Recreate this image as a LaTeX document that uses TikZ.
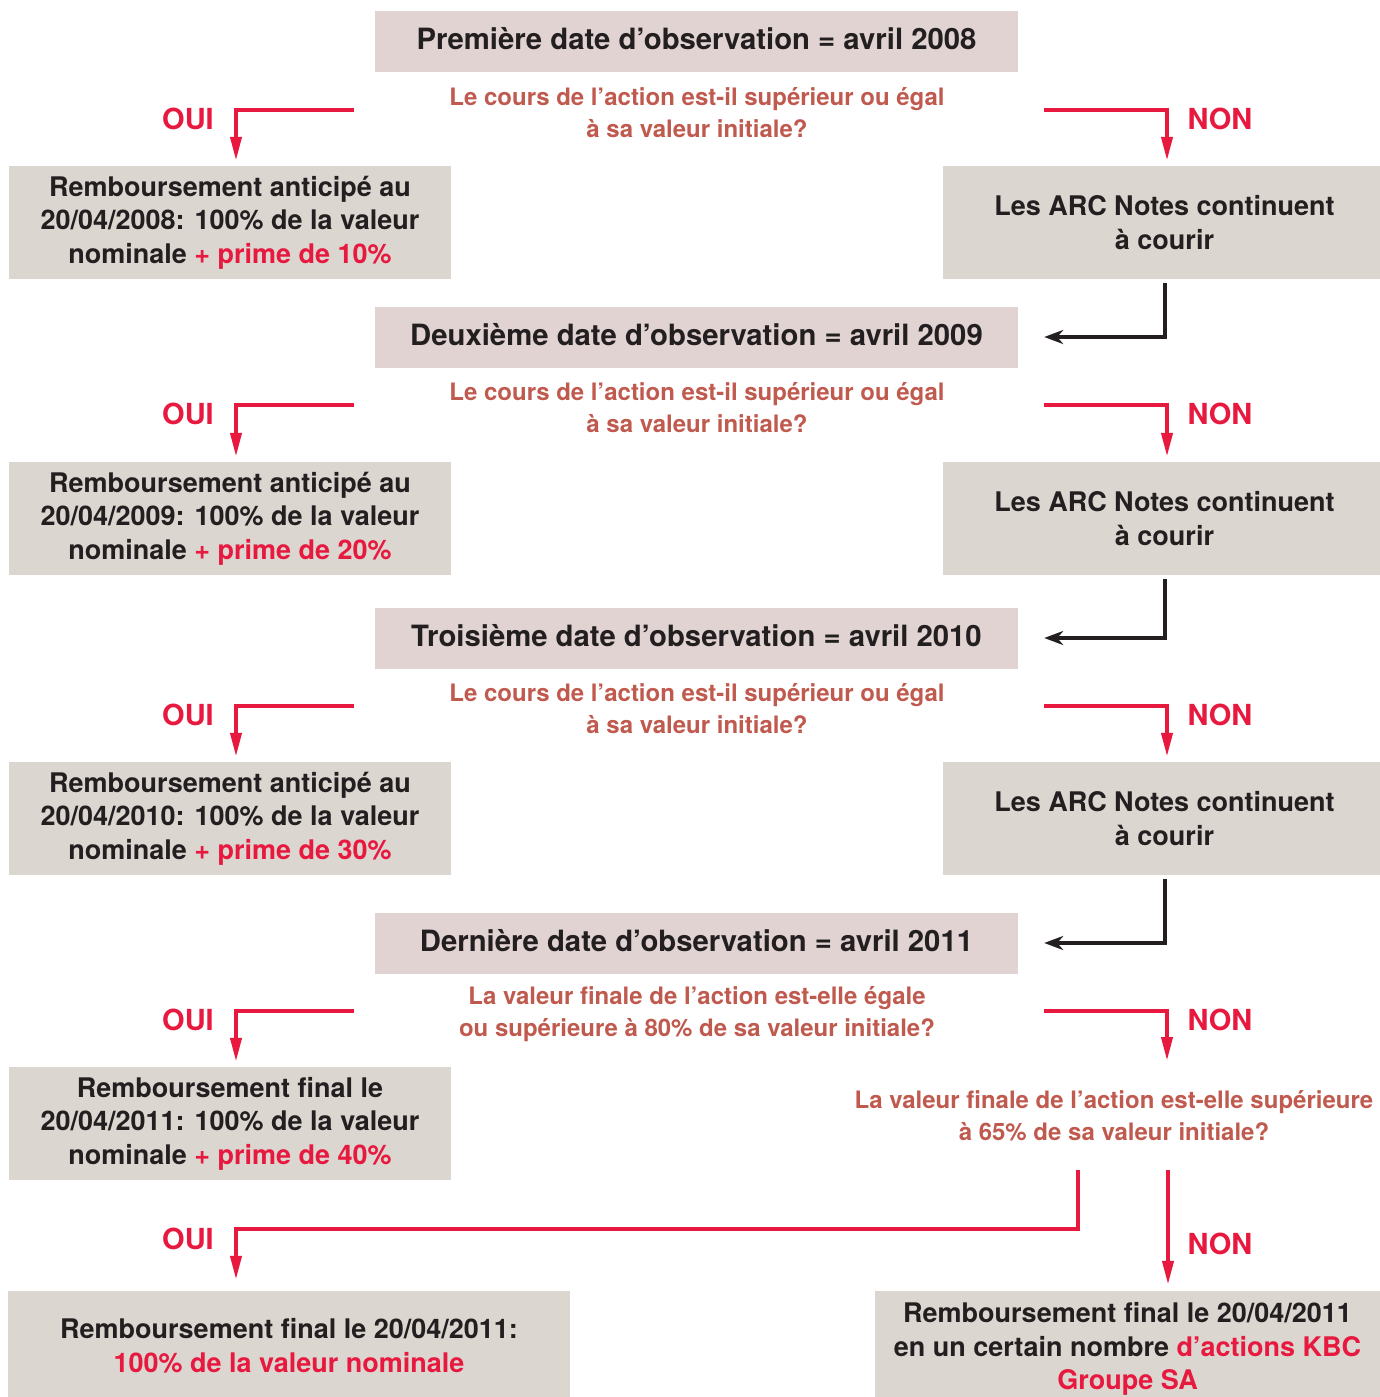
\documentclass[tikz,border=0pt]{standalone}
\usepackage{fontspec}
\setmainfont{TeX Gyre Heros}
\usetikzlibrary{calc,arrows.meta}
\definecolor{datefill}{HTML}{E0D3D2}
\definecolor{boxfill}{HTML}{DBD6D0}
\definecolor{arcred}{HTML}{E8193F}
\definecolor{askbrown}{HTML}{C05A4E}
\definecolor{ink}{HTML}{231F20}
\newcommand{\hl}[1]{{\color{arcred}#1}}

\begin{document}
\begin{tikzpicture}[x=1pt,y=-1pt,
  datebox/.style={fill=datefill,minimum width=643pt,minimum height=61pt,inner sep=0pt,text depth=6pt,text=ink,font=\bfseries\fontsize{29.3}{34}\selectfont},
  paybox/.style={fill=boxfill,minimum width=442pt,minimum height=113pt,inner sep=0pt,align=center,text=ink,font=\bfseries\fontsize{27}{33.5}\selectfont},
  runbox/.style={paybox,minimum width=437pt},
  ask/.style={inner sep=0pt,align=center,text=askbrown,font=\bfseries\fontsize{24}{32}\selectfont},
  answer/.style={inner sep=0pt,text=arcred,font=\bfseries\fontsize{29}{34}\selectfont},
  yes/.style={draw=arcred,line width=4pt,-{Triangle[length=24pt,width=11pt]}},
  goon/.style={draw=ink,line width=4pt,-{Stealth[length=19pt,width=14pt,inset=6pt]}}]
	\useasboundingbox (0,0) rectangle (1380,1397);

	%observation dates
	\node[datebox] (date1) at (696.5,41.5) {Première date d’observation = avril 2008};
	\node[datebox] (date2) at (696.5,337) {Deuxième date d’observation = avril 2009};
	\node[datebox] (date3) at (696.5,638) {Troisième date d’observation = avril 2010};
	\node[datebox] (date4) at (696.5,943) {Dernière date d’observation = avril 2011};

	%questions
	\node[ask] (q1) at (697,113) {Le cours de l’action est-il supérieur ou égal\\à sa valeur initiale?};
	\node[ask] (q2) at (697,408) {Le cours de l’action est-il supérieur ou égal\\à sa valeur initiale?};
	\node[ask] (q3) at (697,709) {Le cours de l’action est-il supérieur ou égal\\à sa valeur initiale?};
	\node[ask] (q4) at (697,1014) {La valeur finale de l’action est-elle égale\\ou supérieure à 80\% de sa valeur initiale?};
	\node[ask] (q5) at (1114,1116) {La valeur finale de l’action est-elle supérieure\\à 65\% de sa valeur initiale?};

	%early and final redemptions
	\node[paybox] (rem1) at (230,222.5) {Remboursement anticipé au\\20/04/2008: 100\% de la valeur\\nominale \hl{+ prime de 10\%}};
	\node[paybox] (rem2) at (230,518.5) {Remboursement anticipé au\\20/04/2009: 100\% de la valeur\\nominale \hl{+ prime de 20\%}};
	\node[paybox] (rem3) at (230,818.5) {Remboursement anticipé au\\20/04/2010: 100\% de la valeur\\nominale \hl{+ prime de 30\%}};
	\node[paybox] (rem4) at (230,1123.5) {Remboursement final le\\20/04/2011: 100\% de la valeur\\nominale \hl{+ prime de 40\%}};

	%notes keep running
	\node[runbox] (arc1) at (1161.5,222.5) {\hspace{6pt}Les ARC Notes continuent\\\hspace{6pt}à courir};
	\node[runbox] (arc2) at (1161.5,518.5) {\hspace{6pt}Les ARC Notes continuent\\\hspace{6pt}à courir};
	\node[runbox] (arc3) at (1161.5,818.5) {\hspace{6pt}Les ARC Notes continuent\\\hspace{6pt}à courir};

	%last outcomes
	\node[paybox,minimum width=562pt,minimum height=106pt] (fin1) at (289,1344) {\rule{0pt}{24pt}Remboursement final le 20/04/2011:\\\hl{100\% de la valeur nominale}};
	\node[paybox,minimum width=505pt,minimum height=106pt] (fin2) at (1127.5,1344) {\rule{0pt}{30pt}Remboursement final le 20/04/2011\\en un certain nombre \hl{d’actions KBC}\\\hl{Groupe SA}};

	%OUI / NON branches
	\foreach \r/\y in {1/110,2/405,3/706,4/1011} {
		\coordinate (ouiS\r) at (354,\y);
		\coordinate (nonS\r) at (1044,\y);
		\node[answer] (oui\r) at (188,\y+9) {OUI};
		\node[answer] (non\r) at (1220,\y+9) {NON};
		\draw[yes,shorten >=5pt] (ouiS\r) -| ($(rem\r.north)+(6,0)$);
	}
	\foreach \r in {1,2,3}
		\draw[yes,shorten >=5pt] (nonS\r) -| ($(arc\r.north)+(5.5,0)$);
	\coordinate (nonE4) at (1167,1061);
	\draw[yes] (nonS4) -| (nonE4);

	%second test
	\coordinate (ouiS5) at (1078,1170);
	\coordinate (ouiK5) at (236,1229);
	\coordinate (nonS5) at (1168,1170);
	\node[answer] (oui5) at (188,1239) {OUI};
	\node[answer] (non5) at (1220,1244) {NON};
	\draw[yes,shorten >=11pt] (ouiS5) |- (ouiK5) -- (ouiK5 |- fin1.north);
	\draw[yes,shorten >=6pt] (nonS5) -- (nonS5 |- fin2.north);

	%back to the next date
	\draw[goon] ($(arc1.south)+(3.5,4)$) |- ($(date2.east)+(26,0)$);
	\draw[goon] ($(arc2.south)+(3.5,4)$) |- ($(date3.east)+(26,0)$);
	\draw[goon] ($(arc3.south)+(3.5,4)$) |- ($(date4.east)+(26,0)$);
\end{tikzpicture}
\end{document}
